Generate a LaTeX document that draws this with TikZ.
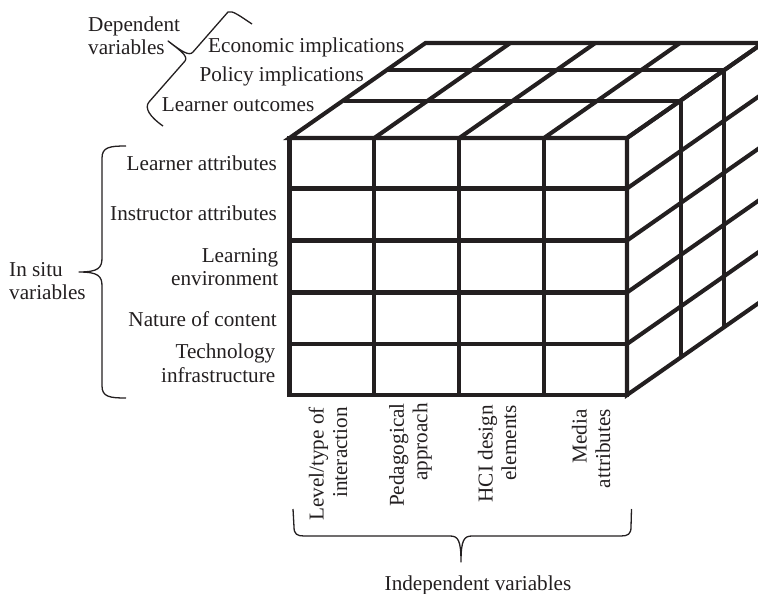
\documentclass[tikz,border=0pt]{standalone}
\usepackage{fontspec}
\setmainfont{Liberation Serif}
\definecolor{ink}{RGB}{35,31,32}
\begin{document}
\begin{tikzpicture}[x=1pt,y=-1pt,
  grid/.style={draw=ink,line width=4.1pt,line join=miter},
  bracepath/.style={draw=ink,line width=1.3pt,line join=round},
  lbl/.style={text=ink,inner sep=0pt,font=\fontsize{21.2}{23.5}\selectfont},
  vlbl/.style={lbl,rotate=90,anchor=east,align=right}]
\useasboundingbox (0,0) rectangle (758,594);
\clip (0,0) rectangle (758,594);

% ---- front face of the cube (4 columns x 5 rows)
\draw[grid] (289.5,138) rectangle (627,395);
\foreach \x in {374.3,459.3,544} \draw[grid] (\x,138) -- (\x,395);
\foreach \y in {188.5,240.5,292.5,344} \draw[grid] (289.5,\y) -- (627,\y);

% ---- top face (3 layers deep)
\draw[grid] (289.5,138) -- (627,138) -- (763,43) -- (425.5,43) -- cycle;
\draw[grid] (343.5,101) -- (681,101);
\draw[grid] (386.5,70) -- (724,70);
\foreach \x in {374.3,459.3,544} \draw[grid] (\x,138) -- ++(136,-95);

% ---- right face
\draw[grid] (627,138) -- (763,43) -- (763,300) -- (627,395) -- cycle;
\foreach \y in {188.5,240.5,292.5,344} \draw[grid] (627,\y) -- ++(136,-95);
\draw[grid] (681,101) -- (681,358);
\draw[grid] (724,70) -- (724,327);

% ---- row labels (in situ variables)
\node[lbl,anchor=east] (la) at (277,163) {Learner attributes};
\node[lbl,anchor=east] (ia) at (277,213) {Instructor attributes};
\node[lbl,anchor=east,align=right] (le) at (278.5,267) {Learning\\environment};
\node[lbl,anchor=east] (nc) at (277,319) {Nature of content};
\node[lbl,anchor=east,align=right] (ti) at (275.5,363) {Technology\\infrastructure};

\draw[bracepath] (126,146) .. controls (110,146) and (102,147) .. (102,158)
  -- (102,258) .. controls (102,268) and (98,272) .. (79,272)
  .. controls (98,272) and (102,276) .. (102,286)
  -- (102,386) .. controls (102,397) and (110,398) .. (126,398);
\node[lbl,anchor=west,align=left] (isv) at (9,281) {In situ\\variables};

% ---- depth labels (dependent variables)
\node[lbl,anchor=base west] (ei) at (208,52.3) {Economic implications};
\node[lbl,anchor=base west] (pi) at (199.3,81.7) {Policy implications};
\node[lbl,anchor=base west] (lo) at (161.7,111.7) {Learner outcomes};

\draw[bracepath] (252,24) .. controls (240,16) and (232,10) .. (228,12)
  -- (193,52) .. controls (189,57) and (180,50) .. (168,41)
  .. controls (178,49) and (189,56) .. (185,61)
  -- (149,102) .. controls (144,108) and (150,117) .. (163,126);
\node[lbl,anchor=west,align=left] (dv) at (88,35.5) {Dependent\\variables};

% ---- column labels (independent variables)
\node[vlbl] (lt) at (328,407) {Level/type of\\interaction};
\node[vlbl] (pa) at (410.5,403) {Pedagogical\\approach};
\node[vlbl] (hci) at (497,405) {HCI design\\elements};
\node[vlbl] (ma) at (591,409) {Media\\attributes};

\draw[bracepath] (293,509) -- (294,527) .. controls (294,534) and (297,536) .. (304,536)
  -- (450,536) .. controls (458,536) and (461,540) .. (461,562)
  .. controls (461,540) and (464,536) .. (472,536)
  -- (621,536) .. controls (628,536) and (631,534) .. (631,527) -- (631.5,509);
\node[lbl,anchor=base] (iv) at (478,590.7) {Independent variables};
\end{tikzpicture}
\end{document}
